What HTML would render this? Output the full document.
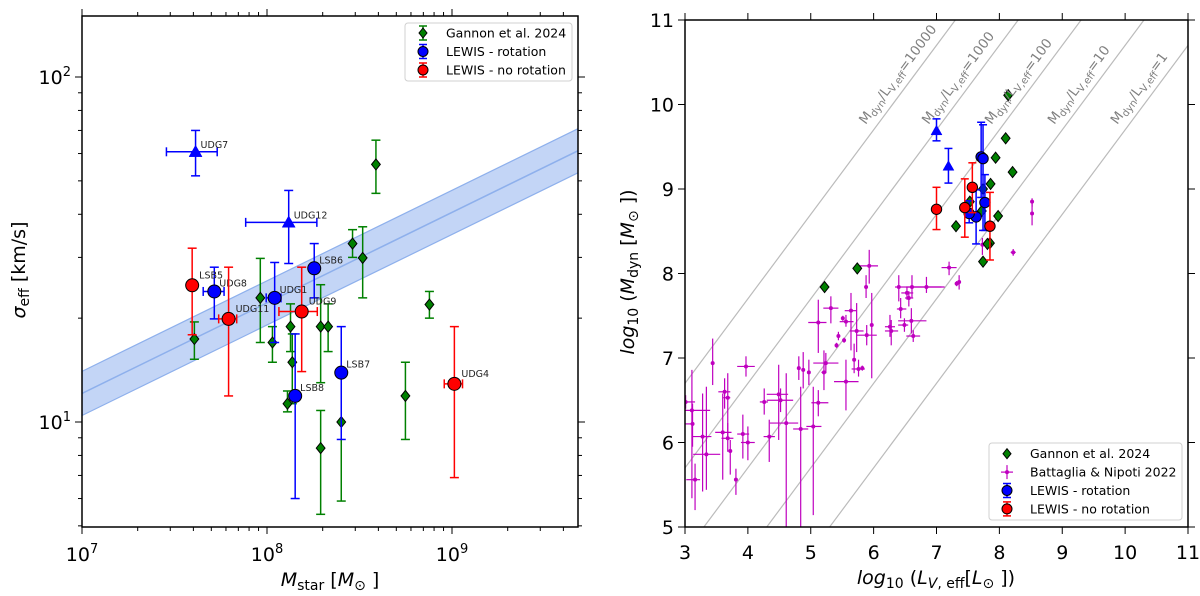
<!DOCTYPE html>
<html><head><meta charset="utf-8"><style>
html,body{margin:0;padding:0;background:#fff;width:1200px;height:596px;overflow:hidden;}
svg{display:block;font-family:"DejaVu Sans","Liberation Sans",sans-serif;}
</style></head><body>
<svg id="fig" width="1200" height="596" viewBox="0 0 1200 596" xmlns="http://www.w3.org/2000/svg">
<defs>
<clipPath id="clipL"><rect x="82" y="16" width="496" height="511"/></clipPath>
<clipPath id="clipR"><rect x="685" y="20" width="503" height="507"/></clipPath>
</defs>
<g id="left"></g>
<g id="right"></g>
</svg>
<script>
// ---------- LEFT PANEL DATA ----------
const fitMass = [1e7, 5e9];
const fitSigma = [12.1, 61.8];
const fitScatterDex = 0.064;

const gannonMass = [4.05e7, 9.2e7, 1.07e8, 1.34e8, 1.37e8, 1.29e8, 1.95e8, 2.14e8, 1.95e8, 2.52e8, 5.6e8, 7.55e8, 2.9e8, 3.29e8, 3.88e8];
const gannonSigma = [17.4, 22.9, 17.0, 18.9, 14.9, 11.3, 18.9, 18.9, 8.4, 10.0, 11.9, 21.9, 32.9, 29.9, 55.8];
const gannonSigmaLo = [15.2, 17.0, 14.9, 16.0, 11.3, 10.7, 13.0, 16.0, 5.4, 5.9, 8.9, 20.0, 30.0, 22.9, 46.0];
const gannonSigmaHi = [19.5, 29.8, 18.9, 22.0, 18.0, 12.3, 25.0, 22.0, 10.8, 14.0, 14.9, 23.9, 36.1, 36.8, 65.6];

const rotNames = ["LSB6", "UDG8", "UDG1", "LSB8", "LSB7"];
const rotMass = [1.8e8, 5.19e7, 1.1e8, 1.42e8, 2.52e8];
const rotMassLo = [1.8e8, 4.52e7, 9.9e7, 1.42e8, 2.52e8];
const rotMassHi = [1.8e8, 5.86e7, 1.19e8, 1.42e8, 2.52e8];
const rotSigma = [27.9, 23.9, 22.9, 11.9, 13.9];
const rotSigmaLo = [22.9, 19.9, 17.0, 6.0, 8.9];
const rotSigmaHi = [32.9, 28.1, 29.0, 18.0, 18.9];

const triNames = ["UDG7", "UDG12"];
const triMass = [4.11e7, 1.31e8];
const triMassLo = [2.86e7, 7.67e7];
const triMassHi = [5.38e7, 1.86e8];
const triSigma = [60.7, 37.9];
const triSigmaLo = [51.7, 28.8];
const triSigmaHi = [70.0, 46.9];

const norNames = ["LSB5", "UDG11", "UDG9", "UDG4"];
const norMass = [3.94e7, 6.2e7, 1.54e8, 1.03e9];
const norMassLo = [3.94e7, 5.48e7, 1.16e8, 9.08e8];
const norMassHi = [3.94e7, 6.86e7, 1.87e8, 1.14e9];
const norSigma = [24.9, 19.9, 20.9, 12.9];
const norSigmaLo = [17.9, 11.9, 14.0, 6.9];
const norSigmaHi = [31.9, 28.1, 28.1, 18.9];

const leftXTicks = [7, 8, 9];
const leftYTicks = [1, 2];

// ---------- RIGHT PANEL DATA ----------
const mlRatios = [10000, 1000, 100, 10, 1];
const mlLabels = ["10000", "1000", "100", "10", "1"];
const mlOffset = -0.3;

const rGannonX = [8.14, 8.10, 7.94, 8.21, 7.86, 7.74, 7.53, 7.72, 7.98, 7.31, 7.85, 7.81, 7.74, 5.74, 5.22];
const rGannonY = [10.11, 9.60, 9.37, 9.20, 9.06, 9.00, 8.85, 8.74, 8.68, 8.56, 8.36, 8.35, 8.14, 8.06, 7.84];

const batX =   [3.01,3.11,3.12,3.16,3.28,3.34,3.44,3.60,3.63,3.68,3.68,3.72,3.81,3.92,3.97,4.00,4.26,4.34,4.49,4.52,4.61,4.84,4.81,4.88,4.97,5.04,5.12,5.12,5.21,5.24,5.32,5.41,5.44,5.51,5.53,5.56,5.56,5.64,5.69,5.73,5.76,5.82,5.88,5.89,5.93,5.97,6.26,6.28,6.43,6.49,6.53,6.56,6.60,6.63,6.40,6.61,6.84,7.20,7.32,7.36,8.52,8.52,8.22,7.73];
const batY =   [6.48,6.38,6.22,5.56,6.07,5.86,6.94,6.12,6.60,6.53,6.05,5.90,5.56,6.10,6.90,6.00,6.48,6.07,6.57,6.50,6.23,6.16,6.88,6.86,6.83,6.19,6.47,7.42,6.83,6.94,7.59,7.15,7.26,7.47,7.21,7.43,6.72,7.56,6.98,7.32,6.87,6.88,7.84,7.27,8.09,7.39,7.37,7.32,7.58,7.39,7.77,7.71,7.44,7.26,7.84,7.84,7.84,8.07,7.88,7.90,8.85,8.71,8.25,8.34];
const batXLo = [2.92,2.92,2.92,3.02,3.11,3.13,3.44,3.48,3.53,3.61,3.58,3.72,3.81,3.83,3.83,3.89,4.19,4.25,4.30,4.30,4.35,4.72,4.81,4.88,4.97,4.93,5.01,4.96,5.17,5.04,5.20,5.41,5.44,5.51,5.53,5.46,5.37,5.54,5.69,5.62,5.65,5.82,5.88,5.73,5.76,5.97,6.18,6.18,6.37,6.39,6.44,6.50,6.39,6.52,6.34,6.52,6.63,7.08,7.32,7.36,8.52,8.52,8.18,7.73];
const batXHi = [3.16,3.40,3.13,3.24,3.42,3.56,3.44,3.74,3.72,3.72,3.77,3.72,3.81,4.02,4.11,4.11,4.32,4.43,4.64,4.72,4.80,4.96,4.81,4.88,4.97,5.17,5.28,5.25,5.25,5.44,5.44,5.41,5.44,5.51,5.53,5.68,5.76,5.73,5.69,5.84,5.86,5.82,5.88,6.05,6.07,5.97,6.34,6.39,6.52,6.55,6.63,6.63,6.84,6.74,6.58,7.13,7.08,7.32,7.32,7.36,8.52,8.52,8.26,7.73];
const batYLo = [6.40,5.34,5.95,5.20,5.42,5.44,6.68,5.56,6.40,6.05,5.89,5.62,5.38,5.81,6.78,5.79,6.33,5.77,6.03,6.36,4.80,4.80,6.74,6.64,6.68,5.14,6.31,7.06,6.62,6.82,7.41,7.12,7.21,7.44,7.18,7.37,6.38,7.09,6.82,7.07,6.78,6.85,7.71,7.15,7.88,6.76,7.25,7.15,7.47,7.31,7.69,7.61,7.29,7.19,7.67,7.71,7.77,7.98,7.85,7.81,8.79,8.57,8.21,8.22];
const batYHi = [6.56,6.86,6.46,5.75,6.58,6.66,7.23,6.58,6.76,6.82,6.23,6.03,5.69,6.33,7.02,6.19,6.64,6.27,6.92,6.64,6.82,6.66,7.02,7.07,6.98,6.66,6.62,7.69,7.09,7.06,7.73,7.18,7.31,7.50,7.24,7.51,6.98,7.77,7.17,7.65,6.98,6.91,7.98,7.39,8.28,7.77,7.51,7.45,7.71,7.47,7.84,7.79,7.59,7.33,7.98,7.98,7.96,8.14,7.91,7.98,8.89,8.87,8.29,8.42];

const rRotX = [7.71, 7.74, 7.77, 7.63, 7.52];
const rRotY = [9.38, 9.36, 8.84, 8.67, 8.71];
const rRotLo = [8.90, 8.51, 8.51, 8.35, 8.60];
const rRotHi = [9.79, 9.76, 9.17, 8.99, 8.86];
const rTriX = [7.00, 7.19];
const rTriY = [9.69, 9.27];
const rTriLo = [9.57, 9.07];
const rTriHi = [9.83, 9.48];
const rNorX = [7.00, 7.45, 7.57, 7.85];
const rNorY = [8.76, 8.78, 9.02, 8.56];
const rNorLo = [8.52, 8.43, 8.72, 8.16];
const rNorHi = [9.02, 9.12, 9.31, 8.96];

const rightXTicks = [3,4,5,6,7,8,9,10,11];
const rightYTicks = [5,6,7,8,9,10,11];

// ---------- helpers ----------
const NS = "http://www.w3.org/2000/svg";
function mk(parent, tag, attrs, name, inter) {
  const el = document.createElementNS(NS, tag);
  for (const k in attrs) el.setAttribute(k, attrs[k]);
  
  
  parent.appendChild(el);
  return el;
}
const xL = m => 82 + 185 * (Math.log10(m) - 7);
const yL = s => 422 - 345 * (Math.log10(s) - 1);
const xR = v => 685 + 62.875 * (v - 3);
const yR = v => 527 - 84.5 * (v - 5);

const G = "#008000", B = "#0000ff", R = "#ff0000", MG = "#bf00bf";

function vbar(p, x, y1, y2, col, cap, name, w) {
  mk(p, 'line', {x1:x, x2:x, y1:y1, y2:y2, stroke:col, 'stroke-width':w||1.5}, name, false);
  if (cap) {
    mk(p, 'line', {x1:x-cap, x2:x+cap, y1:y1, y2:y1, stroke:col, 'stroke-width':1.5}, name + '-cap', false);
    mk(p, 'line', {x1:x-cap, x2:x+cap, y1:y2, y2:y2, stroke:col, 'stroke-width':1.5}, name + '-cap', false);
  }
}
function hbar(p, y, x1, x2, col, cap, name, w) {
  if (Math.abs(x2-x1) < 0.5) return;
  mk(p, 'line', {x1:x1, x2:x2, y1:y, y2:y, stroke:col, 'stroke-width':w||1.5}, name, false);
  if (cap) {
    mk(p, 'line', {x1:x1, x2:x1, y1:y-cap, y2:y+cap, stroke:col, 'stroke-width':1.5}, name + '-cap', false);
    mk(p, 'line', {x1:x2, x2:x2, y1:y-cap, y2:y+cap, stroke:col, 'stroke-width':1.5}, name + '-cap', false);
  }
}
function diamond(p, x, y, r, name) {
  return mk(p, 'polygon', {points:`${x},${y-r} ${x+r*0.8},${y} ${x},${y+r} ${x-r*0.8},${y}`, fill:G, stroke:'#000', 'stroke-width':1}, name, false);
}
function circle(p, x, y, r, col, name) {
  return mk(p, 'circle', {cx:x, cy:y, r:r, fill:col, stroke:'#000', 'stroke-width':1}, name, false);
}
function tri(p, x, y, r, col, name) {
  return mk(p, 'polygon', {points:`${x},${y-r} ${x+r},${y+r*0.75} ${x-r},${y+r*0.75}`, fill:col, stroke:col, 'stroke-width':0.5}, name, false);
}

// ================= LEFT PANEL =================
const L = document.getElementById('left');
const Lc = mk(L, 'g', {'clip-path':'url(#clipL)'}, 'left-plot-area', false);
{
  const p = [];
  for (let i = 0; i < fitMass.length; i++) p.push(`${xL(fitMass[i])},${yL(fitSigma[i]*Math.pow(10,fitScatterDex))}`);
  for (let i = fitMass.length-1; i >= 0; i--) p.push(`${xL(fitMass[i])},${yL(fitSigma[i]/Math.pow(10,fitScatterDex))}`);
  mk(Lc, 'polygon', {points:p.join(' '), fill:'#c3d5f6', stroke:'#8eb0ec', 'stroke-width':1.2}, 'fit-scatter-band', false);
  mk(Lc, 'line', {x1:xL(fitMass[0]), y1:yL(fitSigma[0]), x2:xL(fitMass[1]), y2:yL(fitSigma[1]), stroke:'#8eb0ec', 'stroke-width':1.5}, 'fit-line', false);
}
for (let i = 0; i < gannonMass.length; i++) {
  vbar(Lc, xL(gannonMass[i]), yL(gannonSigmaHi[i]), yL(gannonSigmaLo[i]), G, 4.5, 'gannon-errorbar');
}
for (let i = 0; i < gannonMass.length; i++) diamond(Lc, xL(gannonMass[i]), yL(gannonSigma[i]), 5.5, 'gannon-point');
for (let i = 0; i < rotMass.length; i++) {
  const x = xL(rotMass[i]), y = yL(rotSigma[i]);
  vbar(Lc, x, yL(rotSigmaHi[i]), yL(rotSigmaLo[i]), B, 4.5, 'rotation-errorbar');
  hbar(Lc, y, xL(rotMassLo[i]), xL(rotMassHi[i]), B, 4.5, 'rotation-xerrorbar');
  circle(Lc, x, y, 6.5, B, 'rotation-point');
  const t = mk(Lc, 'text', {x:x+5, y:y-5, 'font-size':9.5, fill:'#222'}, 'point-label', false);
  t.textContent = rotNames[i];
}
for (let i = 0; i < triMass.length; i++) {
  const x = xL(triMass[i]), y = yL(triSigma[i]);
  vbar(Lc, x, yL(triSigmaHi[i]), yL(triSigmaLo[i]), B, 4.5, 'rotation-limit-errorbar');
  hbar(Lc, y, xL(triMassLo[i]), xL(triMassHi[i]), B, 4.5, 'rotation-limit-xerrorbar');
  tri(Lc, x, y, 6.5, B, 'rotation-limit-point');
  const t = mk(Lc, 'text', {x:x+5, y:y-4, 'font-size':9.5, fill:'#222'}, 'point-label', false);
  t.textContent = triNames[i];
}
for (let i = 0; i < norMass.length; i++) {
  const x = xL(norMass[i]), y = yL(norSigma[i]);
  vbar(Lc, x, yL(norSigmaHi[i]), yL(norSigmaLo[i]), R, 4.5, 'no-rotation-errorbar');
  hbar(Lc, y, xL(norMassLo[i]), xL(norMassHi[i]), R, 4.5, 'no-rotation-xerrorbar');
  circle(Lc, x, y, 6.5, R, 'no-rotation-point');
  const t = mk(Lc, 'text', {x:x+7, y:y-7, 'font-size':9.5, fill:'#222'}, 'point-label', false);
  t.textContent = norNames[i];
}
mk(L, 'rect', {x:82, y:16, width:496, height:511, fill:'none', stroke:'#000', 'stroke-width':1.5}, 'left-axes-frame', false);
for (let d = 7; d <= 9; d++) {
  for (let k = 1; k <= 9; k++) {
    const x = xL(k * Math.pow(10, d));
    if (x > 578.5) continue;
    const len = k === 1 ? 7 : 4;
    mk(L, 'line', {x1:x, x2:x, y1:527, y2:527+len, stroke:'#000', 'stroke-width':1}, 'x-tick', false);
    mk(L, 'line', {x1:x, x2:x, y1:16, y2:16-len, stroke:'#000', 'stroke-width':1}, 'x-tick-top', false);
  }
}
leftXTicks.forEach(e => {
  const t = mk(L, 'text', {x:xL(Math.pow(10,e)), y:561, 'font-size':19, 'text-anchor':'middle'}, 'x-tick-label', false);
  t.innerHTML = '10<tspan dy="-8" font-size="13">' + e + '</tspan>';
});
for (let d = 0; d <= 2; d++) {
  for (let k = 1; k <= 9; k++) {
    const y = yL(k * Math.pow(10, d));
    if (y < 15.5 || y > 527.5) continue;
    const len = k === 1 ? 7 : 4;
    mk(L, 'line', {x1:82, x2:82-len, y1:y, y2:y, stroke:'#000', 'stroke-width':1}, 'y-tick', false);
    mk(L, 'line', {x1:578, x2:578+len, y1:y, y2:y, stroke:'#000', 'stroke-width':1}, 'y-tick-right', false);
  }
}
leftYTicks.forEach(e => {
  const t = mk(L, 'text', {x:71, y:yL(Math.pow(10,e))+7, 'font-size':19, 'text-anchor':'end'}, 'y-tick-label', false);
  t.innerHTML = '10<tspan dy="-8" font-size="13">' + e + '</tspan>';
});
{
  const t = mk(L, 'text', {x:330, y:586, 'font-size':19, 'text-anchor':'middle'}, 'x-axis-title', false);
  t.innerHTML = '<tspan font-style="italic">M</tspan><tspan font-size="14" dy="4">star</tspan><tspan dy="-4"> [</tspan><tspan font-style="italic">M</tspan><tspan font-size="14" dy="4">⊙</tspan><tspan dy="-4"> ]</tspan>';
  const t2 = mk(L, 'text', {x:0, y:0, 'font-size':19, 'text-anchor':'middle', transform:'translate(25,270) rotate(-90)'}, 'y-axis-title', false);
  t2.innerHTML = '<tspan font-style="italic">σ</tspan><tspan font-size="14" dy="4">eff</tspan><tspan dy="-4"> [km/s]</tspan>';
}
{
  const lg = mk(L, 'g', {}, 'left-legend', false);
  mk(lg, 'rect', {x:405, y:23, width:167, height:58, rx:3, fill:'#fff', 'fill-opacity':0.85, stroke:'#d0d0d0', 'stroke-width':1}, 'legend-box', false);
  const ents = [["Gannon et al. 2024", G, 'd'], ["LEWIS - rotation", B, 'c'], ["LEWIS - no rotation", R, 'c']];
  ents.forEach((e, i) => {
    const y = 33 + i * 18.5;
    const ge = mk(lg, 'g', {}, 'legend-entry', false);
    vbar(ge, 423, y-7, y+7, e[1], 4, 'legend-errorbar');
    if (e[2] === 'd') diamond(ge, 423, y, 5, 'legend-marker'); else circle(ge, 423, y, 5, e[1], 'legend-marker');
    const t = mk(ge, 'text', {x:446, y:y+4.5, 'font-size':12.5}, 'legend-label', false);
    t.textContent = e[0];
  });
}

// ================= RIGHT PANEL =================
const Rg = document.getElementById('right');
const Rc = mk(Rg, 'g', {'clip-path':'url(#clipR)'}, 'right-plot-area', false);
mlRatios.forEach((k, i) => {
  const off = Math.log10(k) + mlOffset;
  mk(Rc, 'line', {x1:xR(2), y1:yR(2+off), x2:xR(12), y2:yR(12+off), stroke:'#bbbbbb', 'stroke-width':1.2}, 'ml-ratio-line', false);
  const ly = 9.78;
  const lx = ly - off;
  const t = mk(Rg, 'text', {x:0, y:0, 'font-size':13.5, fill:'#808080', transform:`translate(${xR(lx)-13},${yR(ly)+2}) rotate(-53.3)`}, 'ml-ratio-label', false);
  t.innerHTML = 'M<tspan font-size="10" dy="3">dyn</tspan><tspan dy="-3">/L</tspan><tspan font-size="10" dy="3">V,eff</tspan><tspan dy="-3">=' + mlLabels[i] + '</tspan>';
});
for (let i = 0; i < batX.length; i++) {
  const x = xR(batX[i]), y = yR(batY[i]);
  hbar(Rc, y, xR(batXLo[i]), xR(batXHi[i]), MG, 0, 'battaglia-xerrorbar', 1.2);
  if (batYHi[i] > batYLo[i]) mk(Rc, 'line', {x1:x, x2:x, y1:yR(batYHi[i]), y2:yR(batYLo[i]), stroke:MG, 'stroke-width':1.2}, 'battaglia-errorbar', false);
  mk(Rc, 'circle', {cx:x, cy:y, r:2, fill:MG}, 'battaglia-point', false);
}
for (let i = 0; i < rGannonX.length; i++) diamond(Rc, xR(rGannonX[i]), yR(rGannonY[i]), 5.5, 'gannon-point');
for (let i = 0; i < rRotX.length; i++) {
  vbar(Rc, xR(rRotX[i]), yR(rRotHi[i]), yR(rRotLo[i]), B, 4, 'rotation-errorbar');
}
for (let i = 0; i < rRotX.length; i++) circle(Rc, xR(rRotX[i]), yR(rRotY[i]), 5.2, B, 'rotation-point');
for (let i = 0; i < rTriX.length; i++) {
  const x = xR(rTriX[i]);
  vbar(Rc, x, yR(rTriHi[i]), yR(rTriLo[i]), B, 4, 'rotation-limit-errorbar');
  tri(Rc, x, yR(rTriY[i]), 5.5, B, 'rotation-limit-point');
}
for (let i = 0; i < rNorX.length; i++) {
  const x = xR(rNorX[i]);
  vbar(Rc, x, yR(rNorHi[i]), yR(rNorLo[i]), R, 4, 'no-rotation-errorbar');
  circle(Rc, x, yR(rNorY[i]), 5.2, R, 'no-rotation-point');
}
mk(Rg, 'rect', {x:685, y:20, width:503, height:507, fill:'none', stroke:'#000', 'stroke-width':1.5}, 'right-axes-frame', false);
rightXTicks.forEach(v => {
  const x = xR(v);
  mk(Rg, 'line', {x1:x, x2:x, y1:527, y2:534, stroke:'#000', 'stroke-width':1}, 'x-tick', false);
  mk(Rg, 'line', {x1:x, x2:x, y1:20, y2:13, stroke:'#000', 'stroke-width':1}, 'x-tick-top', false);
  const t = mk(Rg, 'text', {x:x, y:559, 'font-size':19, 'text-anchor':'middle'}, 'x-tick-label', false);
  t.textContent = v;
});
rightYTicks.forEach(v => {
  const y = yR(v);
  mk(Rg, 'line', {x1:685, x2:678, y1:y, y2:y, stroke:'#000', 'stroke-width':1}, 'y-tick', false);
  mk(Rg, 'line', {x1:1188, x2:1195, y1:y, y2:y, stroke:'#000', 'stroke-width':1}, 'y-tick-right', false);
  const t = mk(Rg, 'text', {x:674, y:y+7, 'font-size':19, 'text-anchor':'end'}, 'y-tick-label', false);
  t.textContent = v;
});
{
  const t = mk(Rg, 'text', {x:936, y:584, 'font-size':19, 'text-anchor':'middle'}, 'x-axis-title', false);
  t.innerHTML = '<tspan font-style="italic">log</tspan><tspan font-size="14" dy="4">10</tspan><tspan dy="-4"> (</tspan><tspan font-style="italic">L</tspan><tspan font-size="14" dy="4" font-style="italic">V</tspan><tspan font-size="14">, eff</tspan><tspan dy="-4">[</tspan><tspan font-style="italic">L</tspan><tspan font-size="14" dy="4">⊙</tspan><tspan dy="-4"> ])</tspan>';
  const t2 = mk(Rg, 'text', {x:0, y:0, 'font-size':19, 'text-anchor':'middle', transform:'translate(634,272) rotate(-90)'}, 'y-axis-title', false);
  t2.innerHTML = '<tspan font-style="italic">log</tspan><tspan font-size="14" dy="4">10</tspan><tspan dy="-4"> (</tspan><tspan font-style="italic">M</tspan><tspan font-size="14" dy="4">dyn</tspan><tspan dy="-4"> [</tspan><tspan font-style="italic">M</tspan><tspan font-size="14" dy="4">⊙</tspan><tspan dy="-4"> ])</tspan>';
}
{
  const lg = mk(Rg, 'g', {}, 'right-legend', false);
  mk(lg, 'rect', {x:989, y:443, width:193, height:77, rx:3, fill:'#fff', 'fill-opacity':0.85, stroke:'#d0d0d0', 'stroke-width':1}, 'legend-box', false);
  const ents = [["Gannon et al. 2024", G, 'd'], ["Battaglia & Nipoti 2022", MG, 'm'], ["LEWIS - rotation", B, 'c'], ["LEWIS - no rotation", R, 'c']];
  ents.forEach((e, i) => {
    const y = 453.7 + i * 18.4;
    const ge = mk(lg, 'g', {}, 'legend-entry', false);
    if (e[2] === 'd') diamond(ge, 1007, y, 5, 'legend-marker');
    else if (e[2] === 'm') {
      mk(ge, 'line', {x1:1001, x2:1013, y1:y, y2:y, stroke:MG, 'stroke-width':1.2}, 'legend-marker', false);
      mk(ge, 'line', {x1:1007, x2:1007, y1:y-7, y2:y+7, stroke:MG, 'stroke-width':1.2}, 'legend-marker', false);
      mk(ge, 'circle', {cx:1007, cy:y, r:2, fill:MG}, 'legend-marker', false);
    } else {
      vbar(ge, 1007, y-7, y+7, e[1], 4, 'legend-errorbar');
      circle(ge, 1007, y, 5, e[1], 'legend-marker');
    }
    const t = mk(ge, 'text', {x:1030, y:y+4.5, 'font-size':12.5}, 'legend-label', false);
    t.textContent = e[0];
  });
}
</script>
</body></html>
